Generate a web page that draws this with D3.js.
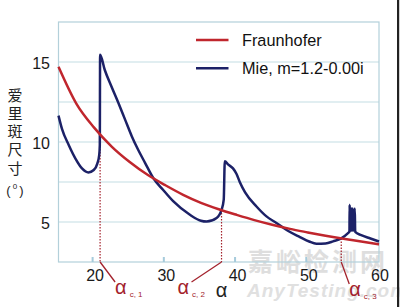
<!DOCTYPE html>
<meta charset="utf-8">
<style>
  body { margin: 0; background: #fff; }
  svg { display: block; font-family: "Liberation Sans", Arial, sans-serif; }
</style>
<svg id="chart" width="400" height="307"></svg>
<script src="https://d3js.org/d3.v7.min.js"></script>
<script>
// data (angle in degrees, spot size in degrees)
var fraunhofer = [
  [15, 14.7], [17.5, 12.4], [20, 10.9], [22.5, 9.7], [25, 8.75], [27.5, 7.95],
  [30, 7.3], [32.5, 6.7], [35, 6.2], [37.5, 5.8], [40, 5.45], [42.5, 5.12],
  [45, 4.83], [47.5, 4.57], [50, 4.35], [52.5, 4.14], [55, 3.95], [57.5, 3.78], [60, 3.6]
];

var mie = [
  [15, 11.65], [15.5, 10.8], [16.45, 9.8], [17.4, 8.95], [18.3, 8.35], [19.2, 8.1],
  [19.95, 8.25], [20.45, 8.65], [20.72, 9.2], [20.8, 9.8], [20.84, 15.45],
  [21.5, 14.5], [22.45, 13.45], [23.4, 12.45], [24.35, 11.4], [25.3, 10.35],
  [26.2, 9.5], [27.15, 8.7], [28.3, 7.75], [29.7, 7.0], [31.1, 6.3], [33.45, 5.45],
  [35.0, 5.08], [35.8, 5.03], [37.2, 5.25], [37.9, 5.77], [38.2, 6.4], [38.35, 8.8],
  [38.8, 8.6], [39.5, 8.35], [40.0, 8.0], [40.45, 7.5], [41.2, 6.85], [42.8, 5.97],
  [44.2, 5.35], [45.6, 4.94], [47.2, 4.45], [48.9, 4.06], [50.2, 3.78], [51.2, 3.64],
  [52.5, 3.66], [53.55, 3.79], [54.7, 3.98], [55.65, 4.31], [55.85, 4.4],
  [55.88, 6.08], [55.92, 4.45], [55.97, 5.9], [56.02, 4.45], [56.08, 5.85],
  [56.14, 4.45], [56.2, 5.85], [56.26, 4.45], [56.32, 5.85], [56.4, 4.45],
  [56.6, 5.85], [56.66, 4.38], [57.5, 4.18], [58.8, 3.97], [60, 3.78]
];

var xTicks = [20, 30, 40, 50, 60];
var yTicks = [5, 10, 15];
var yGrid = [5, 7.5, 10, 12.5, 15];
var critAngles = [20.84, 37.89, 54.7];
var critLabels = ["c, 1", "c, 2", "c, 3"];
var seriesNames = ["Fraunhofer", "Mie, m=1.2-0.00i"];
var yTitle = ["爱", "里", "斑", "尺", "寸"];

var red = "#c0262d", navy = "#1c2167", grid = "#c4dde4", frame = "#b3d0da", annot = "#a3222c";

var svg = d3.select("#chart");

var x = d3.scaleLinear().domain([15, 60]).range([58.5, 379]);
var y = d3.scaleLinear().domain([2.5, 17.5]).range([262, 22]);

// watermark sits behind everything
svg.append("text")
    .attr("x", 248).attr("y", 271)
    .attr("font-family", "Noto Sans CJK SC")
    .attr("font-weight", "bold")
    .attr("font-size", 25)
    .attr("letter-spacing", 3)
    .attr("fill", "#dedede")
    .text("嘉峪检测网");
svg.append("text")
    .attr("x", 247).attr("y", 297)
    .attr("font-style", "italic")
    .attr("font-weight", "bold")
    .attr("font-size", 19)
    .attr("letter-spacing", 1)
    .attr("fill", "#e0e0e0")
    .text("AnyTesting.com");

// gridlines
svg.append("g").selectAll("line")
  .data(yGrid)
  .enter().append("line")
    .attr("x1", x(15)).attr("x2", x(60))
    .attr("y1", function(d) { return y(d); })
    .attr("y2", function(d) { return y(d); })
    .attr("stroke", grid).attr("stroke-width", 1.2);

// plot frame
svg.append("rect")
    .attr("x", x(15)).attr("y", y(17.5))
    .attr("width", x(60) - x(15)).attr("height", y(2.5) - y(17.5))
    .attr("fill", "none").attr("stroke", frame).attr("stroke-width", 1.2);

// small x tick marks
svg.append("g").selectAll("rect")
  .data(xTicks.slice(0, 4))
  .enter().append("rect")
    .attr("x", function(d) { return x(d) - 2.5; })
    .attr("y", y(2.5) - 5)
    .attr("width", 2).attr("height", 5)
    .attr("fill", "#a6cbdc");

// tick labels
svg.append("g").selectAll("text")
  .data(xTicks)
  .enter().append("text")
    .attr("x", function(d) { return x(d) + 1; })
    .attr("y", 281)
    .attr("text-anchor", "middle")
    .attr("font-size", 16)
    .attr("fill", "#1a1a1a")
    .text(function(d) { return d; });

svg.append("g").selectAll("text")
  .data(yTicks)
  .enter().append("text")
    .attr("x", 50)
    .attr("y", function(d) { return y(d) + 6.5; })
    .attr("text-anchor", "end")
    .attr("font-size", 16)
    .attr("fill", "#1a1a1a")
    .text(function(d) { return d; });

// y title, stacked characters
svg.append("g").selectAll("text")
  .data(yTitle)
  .enter().append("text")
    .attr("x", 15)
    .attr("y", function(d, i) { return 95 + i * 18.3 + 5.5; })
    .attr("text-anchor", "middle")
    .attr("font-family", "Noto Sans CJK SC")
    .attr("font-size", 15)
    .attr("fill", "#222")
    .text(function(d) { return d; });

var unit = svg.append("g").attr("fill", "#222").attr("font-size", 13);
unit.append("text").attr("x", 8.5).attr("y", 195).attr("text-anchor", "middle").text("(");
unit.append("text").attr("x", 15).attr("y", 189).attr("text-anchor", "middle").attr("font-size", 8).text("0");
unit.append("text").attr("x", 21.5).attr("y", 195).attr("text-anchor", "middle").text(")");

// red curve value at an angle, for the critical-angle markers
function fraunAt(a) {
  for (var i = 1; i < fraunhofer.length; i++) {
    var p = fraunhofer[i - 1], q = fraunhofer[i];
    if (a <= q[0]) return p[1] + (q[1] - p[1]) * (a - p[0]) / (q[0] - p[0]);
  }
  return fraunhofer[fraunhofer.length - 1][1];
}

// dotted drop lines + leaders + labels
var labelOff = [[15, 20], [-30, 20], [8, 22]];
var crit = svg.append("g");
critAngles.forEach(function(a, i) {
  var cx = x(a);
  crit.append("line")
      .attr("x1", cx).attr("x2", cx)
      .attr("y1", y(fraunAt(a))).attr("y2", y(2.5))
      .attr("stroke", annot).attr("stroke-width", 1.2)
      .attr("stroke-dasharray", "1.5,1.5");
  var ex = cx + labelOff[i][0], ey = y(2.5) + labelOff[i][1];
  crit.append("line")
      .attr("x1", cx).attr("y1", y(2.5))
      .attr("x2", ex).attr("y2", ey)
      .attr("stroke", annot).attr("stroke-width", 1.3);
  var lx = i == 1 ? ex - 14 : ex;
  var t = crit.append("text")
      .attr("x", lx).attr("y", ey + 12)
      .attr("fill", annot)
      .attr("font-size", 20);
  t.append("tspan").text("α");
  t.append("tspan").attr("font-size", 8).attr("dx", 3).attr("dy", 3).text(critLabels[i]);
});

// x title
svg.append("text")
    .attr("x", 221.5).attr("y", 297)
    .attr("text-anchor", "middle")
    .attr("font-size", 20)
    .attr("fill", "#222")
    .text("α");

// curves
var line = d3.line()
    .x(function(d) { return x(d[0]); })
    .y(function(d) { return y(d[1]); })
    .curve(d3.curveMonotoneX);

svg.append("path")
    .datum(mie)
    .attr("d", line)
    .attr("fill", "none")
    .attr("stroke", navy)
    .attr("stroke-width", 2.5)
    .attr("stroke-linejoin", "round");

svg.append("path")
    .datum(fraunhofer)
    .attr("d", line)
    .attr("fill", "none")
    .attr("stroke", red)
    .attr("stroke-width", 2.5);

// legend
var legend = svg.append("g").selectAll("g")
  .data(seriesNames)
  .enter().append("g")
    .attr("transform", function(d, i) { return "translate(0," + (40 + i * 28.3) + ")"; });

legend.append("line")
    .attr("x1", 196).attr("x2", 228.5)
    .attr("stroke", function(d, i) { return i == 0 ? red : navy; })
    .attr("stroke-width", 2.5);

legend.append("text")
    .attr("x", 242).attr("y", 5.5)
    .attr("font-size", 16.3)
    .attr("fill", "#111")
    .text(function(d) { return d; });

// dark edge on the right of the picture
svg.append("rect")
    .attr("x", 397).attr("y", 0)
    .attr("width", 2.2).attr("height", 307)
    .attr("fill", "#222");
</script>
